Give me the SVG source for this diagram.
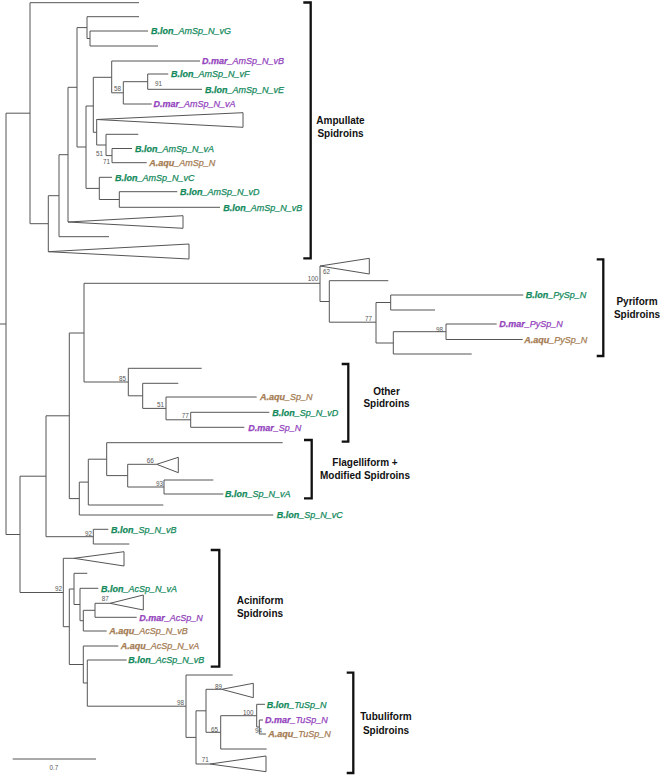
<svg xmlns="http://www.w3.org/2000/svg" width="660" height="775" viewBox="0 0 660 775">
<style>
.br{fill:none;stroke:#555;stroke-width:1}
.tri{fill:#fff;stroke:#555;stroke-width:1}
.bk{fill:none;stroke:#111;stroke-width:2.3}
.lb{font-family:"Liberation Sans",Arial,sans-serif;font-size:9px;font-style:italic;stroke-width:0.25}
.lb tspan.s{font-weight:bold}
.g{fill:#138a5c;stroke:#138a5c}.p{fill:#9343bd;stroke:#9343bd}.o{fill:#a47b52;stroke:#a47b52}
.ns{font-family:"Liberation Sans",Arial,sans-serif;font-size:6.3px;fill:#555}
.cl{font-family:"Liberation Sans",Arial,sans-serif;font-size:10px;font-weight:bold;fill:#111;text-anchor:middle}
</style>
<rect width="660" height="775" fill="#fff"/>
<g id="connectors">
<path class="br" d="M0,324H6M6,113.2V534.5
M6,113.2H30M30,2.7V223.7M30,2.7H139M30,223.7H48.3
M48.3,195.7V251.7M48.3,195.7H59
M59,154.7V236.7M59,154.7H68M59,236.7H109
M68,87.3V222M68,87.3H77
M77,27.6V147M77,27.6H87M77,147H86
M87,16.7V38.5M87,16.7H139M87,38.5H90
M90,31V46M90,31H148M90,46H158
M86,106V188.4M86,106H93.3M86,188.4H99.3
M93.3,77.3V132.3M93.3,77.3H111.7M93.3,132.3H96.7
M111.7,61V92.8M111.7,61H200M111.7,92.8H123.3
M123.3,81.7V104M123.3,81.7H147.7M123.3,104H151.7
M147.7,74V89.3M147.7,74H168.3M147.7,89.3H202
M96.7,119.5V145M96.7,145H106
M106,134.3V155.6M106,134.3H138.3M106,155.6H112
M112,148.5V162.7M112,148.5H132M112,162.7H146.7
M99.3,177.3V199.5M99.3,177.3H112M99.3,199.5H119.3
M119.3,191.7V207.3M119.3,191.7H177.3M119.3,207.3H220
M6,534.5H20M20,476.2V592.5M20,476.2H46M20,592.5H63.3
M46,415.8V536.7M46,415.8H69.3M46,536.7H93.3
M93.3,529.3V544M93.3,529.3H108.3M93.3,544H129.3
M69.3,333V498.6M69.3,333H84M69.3,498.6H79.3
M84,283.3V382M84,283.3H320M84,382H128.3
M320,266V301.5M320,301.5H329.3
M329.3,280.7V322.2M329.3,280.7H388.3M329.3,322.2H376
M376,302.5V343M376,302.5H390.7M376,343H393.3
M390.7,295V310M390.7,295H523.3M390.7,310H435
M393.3,331.7V354M393.3,331.7H446M393.3,354H471.7
M446,324V339.5M446,324H496.7M446,339.5H522.7
M128.3,368.3V395.8M128.3,368.3H201.7M128.3,395.8H142.7
M142.7,383.3V408.4M142.7,383.3H178.3M142.7,408.4H166
M166,397V419.8M166,397H256.7M166,419.8H190.7
M190.7,412.3V427.3M190.7,412.3H269.3M190.7,427.3H244.3
M79.3,482.1V515M79.3,482.1H88.3M79.3,515H273.3
M88.3,459.2V505M88.3,459.2H106.7M88.3,505H163.3
M106.7,442.7V475.6M106.7,442.7H282.7M106.7,475.6H127.7
M127.7,464.3V487M127.7,464.3H156.7M127.7,487H164
M164,480V494M164,480H213.3M164,494H223.3
M63.3,558.3V626.7M63.3,558.3H74M63.3,626.7H69.3
M69.3,589V664.5M69.3,589H74M69.3,664.5H83.3
M74,573.3V604.5M74,573.3H87.3M74,604.5H80
M80,588.3V620.7M80,588.3H98.3M80,620.7H83.3
M83.3,610.3V631M83.3,610.3H95M83.3,631H106.7
M95,603.3V617.3M95,603.3H110M95,617.3H136.7
M83.3,646V683M83.3,646H118.3M83.3,683H87.3
M87.3,660V706.2M87.3,660H126.7M87.3,706.2H186
M186,675V737.4M186,675H232.7M186,737.4H196
M196,710.8V764M196,710.8H206M196,764H210
M206,689.3V732.3M206,689.3H221.7M206,732.3H220.7
M220.7,715.7V749M220.7,715.7H256.7M220.7,749H266.7
M256.7,704.3V727M256.7,704.3H265M256.7,727H259.3
M259.3,720V734M259.3,720H263M259.3,734H266"/>
<polygon class="tri" points="48.3,251.7 189,244 189,259"/>
<polygon class="tri" points="68,222 183,215.7 183,228.3"/>
<polygon class="tri" points="96.7,119.5 243,112.7 243,127.3"/>
<polygon class="tri" points="320,266 369.3,258.3 369.3,274"/>
<polygon class="tri" points="156.7,464.3 178.3,457.3 178.3,472.7"/>
<polygon class="tri" points="74,558.3 124,551.7 124,566"/>
<polygon class="tri" points="110,603.3 143.3,595 143.3,610"/>
<polygon class="tri" points="221.7,689.3 253.3,683.3 253.3,697.7"/>
<polygon class="tri" points="210,764 266,756 266,771.7"/>
<path class="br" d="M12.7,759H96"/>
</g>
<g id="support">
<text class="ns" x="114" y="91.3">58</text>
<text class="ns" x="155" y="86.3">91</text>
<text class="ns" x="96" y="156.3">51</text>
<text class="ns" x="103" y="164.3">71</text>
<text class="ns" x="307.7" y="280.5">100</text>
<text class="ns" x="323" y="274">62</text>
<text class="ns" x="365" y="320.5">77</text>
<text class="ns" x="436" y="331.5">98</text>
<text class="ns" x="119" y="380.5">85</text>
<text class="ns" x="157" y="406.5">51</text>
<text class="ns" x="181.7" y="418">77</text>
<text class="ns" x="146.7" y="463.3">66</text>
<text class="ns" x="156" y="485.5">93</text>
<text class="ns" x="85" y="535.5">92</text>
<text class="ns" x="55" y="591.3">92</text>
<text class="ns" x="101.7" y="601.3">87</text>
<text class="ns" x="215" y="689">89</text>
<text class="ns" x="177" y="705">98</text>
<text class="ns" x="243" y="715">100</text>
<text class="ns" x="211" y="731.5">65</text>
<text class="ns" x="255" y="733">94</text>
<text class="ns" x="201.7" y="762.3">71</text>
<text class="ns" x="54" y="769.5" text-anchor="middle">0.7</text>
</g>
<g id="tip-amsp-vG"><text class="lb g" x="151" y="34.2"><tspan class="s">B.lon</tspan>_AmSp_N_vG</text></g>
<g id="tip-damsp-vB"><text class="lb p" x="202" y="64.2"><tspan class="s">D.mar</tspan>_AmSp_N_vB</text></g>
<g id="tip-amsp-vF"><text class="lb g" x="171" y="77.2"><tspan class="s">B.lon</tspan>_AmSp_N_vF</text></g>
<g id="tip-amsp-vE"><text class="lb g" x="205" y="92.5"><tspan class="s">B.lon</tspan>_AmSp_N_vE</text></g>
<g id="tip-damsp-vA"><text class="lb p" x="153.5" y="107.2"><tspan class="s">D.mar</tspan>_AmSp_N_vA</text></g>
<g id="tip-amsp-vA"><text class="lb g" x="135" y="151.7"><tspan class="s">B.lon</tspan>_AmSp_N_vA</text></g>
<g id="tip-aamsp"><text class="lb o" x="149.3" y="165.9"><tspan class="s">A.aqu</tspan>_AmSp_N</text></g>
<g id="tip-amsp-vC"><text class="lb g" x="115" y="180.5"><tspan class="s">B.lon</tspan>_AmSp_N_vC</text></g>
<g id="tip-amsp-vD"><text class="lb g" x="180" y="194.9"><tspan class="s">B.lon</tspan>_AmSp_N_vD</text></g>
<g id="tip-amsp-vB"><text class="lb g" x="223.3" y="210.5"><tspan class="s">B.lon</tspan>_AmSp_N_vB</text></g>
<g id="tip-pysp-b"><text class="lb g" x="525.7" y="298.2"><tspan class="s">B.lon</tspan>_PySp_N</text></g>
<g id="tip-pysp-d"><text class="lb p" x="499.3" y="327.2"><tspan class="s">D.mar</tspan>_PySp_N</text></g>
<g id="tip-pysp-a"><text class="lb o" x="524.3" y="342.7"><tspan class="s">A.aqu</tspan>_PySp_N</text></g>
<g id="tip-sp-a"><text class="lb o" x="260" y="400.2"><tspan class="s">A.aqu</tspan>_Sp_N</text></g>
<g id="tip-sp-vD"><text class="lb g" x="272.3" y="415.5"><tspan class="s">B.lon</tspan>_Sp_N_vD</text></g>
<g id="tip-sp-d"><text class="lb p" x="248.3" y="430.5"><tspan class="s">D.mar</tspan>_Sp_N</text></g>
<g id="tip-sp-vA"><text class="lb g" x="225" y="497.2"><tspan class="s">B.lon</tspan>_Sp_N_vA</text></g>
<g id="tip-sp-vC"><text class="lb g" x="276.7" y="518.2"><tspan class="s">B.lon</tspan>_Sp_N_vC</text></g>
<g id="tip-sp-vB"><text class="lb g" x="111" y="532.5"><tspan class="s">B.lon</tspan>_Sp_N_vB</text></g>
<g id="tip-acsp-vA"><text class="lb g" x="101" y="591.5"><tspan class="s">B.lon</tspan>_AcSp_N_vA</text></g>
<g id="tip-acsp-d"><text class="lb p" x="139.3" y="620.5"><tspan class="s">D.mar</tspan>_AcSp_N</text></g>
<g id="tip-acsp-avB"><text class="lb o" x="109.3" y="634.2"><tspan class="s">A.aqu</tspan>_AcSp_N_vB</text></g>
<g id="tip-acsp-avA"><text class="lb o" x="120.7" y="649.2"><tspan class="s">A.aqu</tspan>_AcSp_N_vA</text></g>
<g id="tip-acsp-vB"><text class="lb g" x="128.3" y="663.2"><tspan class="s">B.lon</tspan>_AcSp_N_vB</text></g>
<g id="tip-tusp-b"><text class="lb g" x="266.7" y="707.5"><tspan class="s">B.lon</tspan>_TuSp_N</text></g>
<g id="tip-tusp-d"><text class="lb p" x="265" y="723.2"><tspan class="s">D.mar</tspan>_TuSp_N</text></g>
<g id="tip-tusp-a"><text class="lb o" x="268.3" y="737.2"><tspan class="s">A.aqu</tspan>_TuSp_N</text></g>
<g id="clade-ampullate"><path class="bk" d="M303.3,2.5H310.7V258.3H303.3"/><text class="cl" x="340.5" y="124.3">Ampullate</text><text class="cl" x="340.5" y="137">Spidroins</text></g>
<g id="clade-pyriform"><path class="bk" d="M596.7,259.3H603.3V356H596.7"/><text class="cl" x="637" y="305.3">Pyriform</text><text class="cl" x="637" y="317.7">Spidroins</text></g>
<g id="clade-other"><path class="bk" d="M341.7,364H348.3V441.7H341.7"/><text class="cl" x="386.5" y="394.6">Other</text><text class="cl" x="386.5" y="407">Spidroins</text></g>
<g id="clade-flag"><path class="bk" d="M304,440H311.7V498.3H304"/><text class="cl" x="365" y="466.3">Flagelliform +</text><text class="cl" x="365" y="478.7">Modified Spidroins</text></g>
<g id="clade-aciniform"><path class="bk" d="M210.7,550H219.3V666.7H210.7"/><text class="cl" x="260" y="603.6">Aciniform</text><text class="cl" x="260" y="616.6">Spidroins</text></g>
<g id="clade-tubuliform"><path class="bk" d="M346.7,672.7H353.3V773H346.7"/><text class="cl" x="386" y="720.3">Tubuliform</text><text class="cl" x="386" y="733.6">Spidroins</text></g>
</svg>
